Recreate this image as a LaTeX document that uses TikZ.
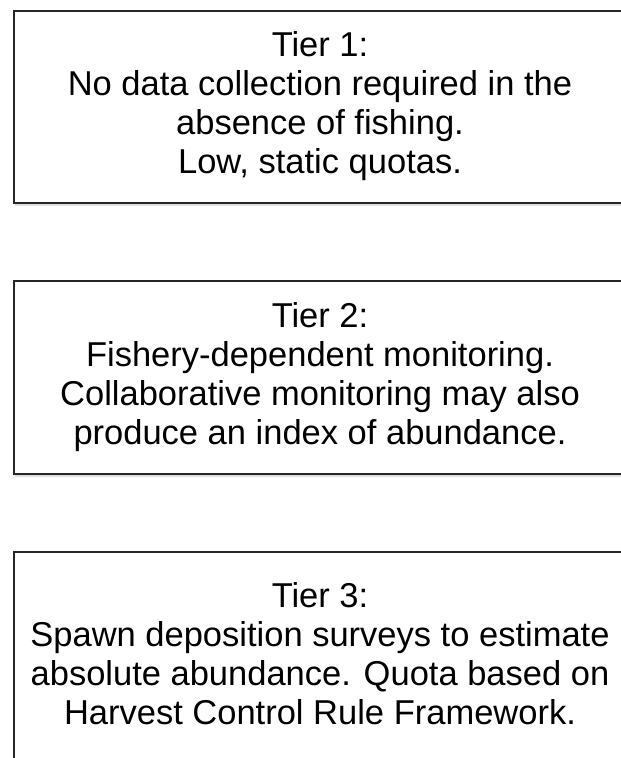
\documentclass[tikz,border=0pt]{standalone}
\usepackage{fontspec}
\setmainfont{Liberation Sans}
\begin{document}
\begin{tikzpicture}[x=1pt,y=-1pt,
  tierbox/.style={draw=black!85, line width=1.6pt, fill=white, rectangle, inner sep=0pt, minimum width=640pt},
  shadowline/.style={draw=black!12, line width=3pt},
  tiertext/.style={align=center, inner sep=0pt, font=\fontsize{34.5}{39}\selectfont}]
\useasboundingbox (0,0) rectangle (621,758);
\begin{scope}
\clip (0,0) rectangle (621,758);
% shadows
\draw[shadowline] (15,204.5) -- (640,204.5);
\draw[shadowline] (15,475.5) -- (640,475.5);
% boxes
\node[tierbox, anchor=north west, minimum height=192pt] (b1) at (13,10) {};
\node[tierbox, anchor=north west, minimum height=193pt] (b2) at (13,280) {};
\node[tierbox, anchor=north west, minimum height=240pt] (b3) at (13,551) {};
\end{scope}
\node[tiertext] (t1) at (320,106) {Tier 1:\\No data collection required in the\\absence of fishing.\\Low, static quotas.};
\node[tiertext] (t2) at (320,377) {Tier 2:\\Fishery-dependent monitoring.\\Collaborative monitoring may also\\produce an index of abundance.};
\node[tiertext] (t3) at (320,654) {Tier 3:\\Spawn deposition surveys to estimate\\absolute abundance. Quota based on\\Harvest Control Rule Framework.};
\end{tikzpicture}
\end{document}
